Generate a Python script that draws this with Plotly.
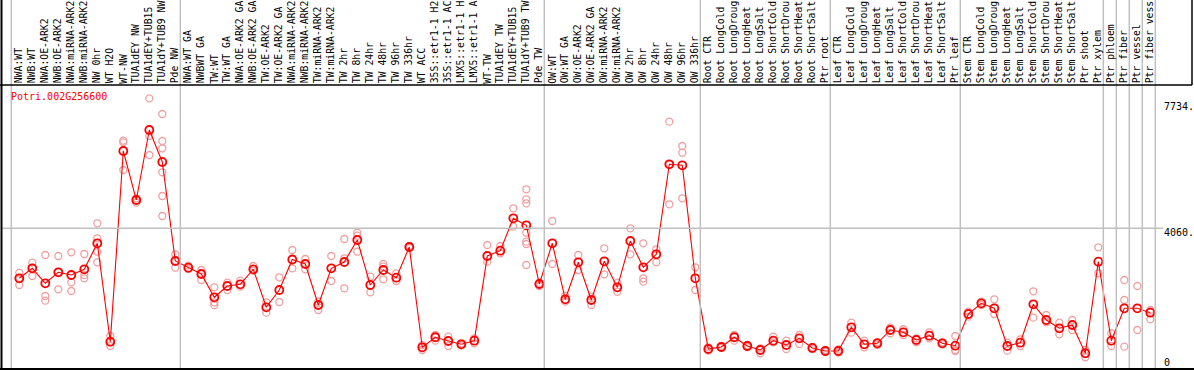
import plotly.graph_objects as go

gene = "Potri.002G256600"

# category labels as visible in the reference (long names are cut at the top edge there)
labels = [
    "NWA:WT", "NWB:WT", "NWA:OE-ARK2", "NWB:OE-ARK2", "NWA:miRNA-ARK2", "NWB:miRNA-ARK2",
    "NW 0hr", "WT H2O", "WT-NW", "TUA1dEY NW", "TUA1dEY+TUB15", "TUA1dY+TUB9 NW", "Pde NW",
    "NWA:WT GA", "NWBWT GA", "TW:WT", "TW:WT GA", "NWA:OE-ARK2 GA", "NWB:OE-ARK2 GA",
    "TW:OE-ARK2", "TW:OE-ARK2 GA", "NWA:miRNA-ARK2", "NWB:miRNA-ARK2", "TW:miRNA-ARK2",
    "TW:miRNA-ARK2", "TW 2hr", "TW 8hr", "TW 24hr", "TW 48hr", "TW 96hr", "TW 336hr",
    "WT ACC", "35S::etr1-1 H2", "35S::etr1-1 AC", "LMX5::etr1-1 H", "LMX5::etr1-1 A",
    "WT-TW", "TUA1dEY TW", "TUA1dEY+TUB15", "TUA1dY+TUB9 TW", "Pde TW",
    "OW:WT", "OW:WT GA", "OW:OE-ARK2", "OW:OE-ARK2 GA", "OW:miRNA-ARK2", "OW:miRNA-ARK2",
    "OW 2hr", "OW 8hr", "OW 24hr", "OW 48hr", "OW 96hr", "OW 336hr",
    "Root CTR", "Root LongCold", "Root LongDroug", "Root LongHeat", "Root LongSalt",
    "Root ShortCold", "Root ShortDrou", "Root ShortHeat", "Root ShortSalt", "Ptr root",
    "Leaf CTR", "Leaf LongCold", "Leaf LongDroug", "Leaf LongHeat", "Leaf LongSalt",
    "Leaf ShortCold", "Leaf ShortDrou", "Leaf ShortHeat", "Leaf ShortSalt", "Ptr leaf",
    "Stem CTR", "Stem LongCold", "Stem LongDroug", "Stem LongHeat", "Stem LongSalt",
    "Stem ShortCold", "Stem ShortDrou", "Stem ShortHeat", "Stem ShortSalt",
    "Ptr shoot", "Ptr xylem", "Ptr phloem", "Ptr fiber", "Ptr vessel", "Ptr fiber vess",
]

mean_values = [
    2597, 2890, 2451, 2773, 2694, 2861, 3621, 743, 6321, 4888, 6935, 5999, 3103,
    2907, 2723, 2042, 2372, 2422, 2861, 1749, 2255, 3147, 3016, 1816, 2890, 3074,
    3718, 2401, 2840, 2615, 3513, 579, 872, 763, 667, 772, 3250, 3405, 4352, 4148, 2431,
    3621, 1983, 3065, 1963, 3095, 2334, 3688, 2919, 3299, 5932, 5903, 2597,
    529, 588, 872, 617, 500, 772, 646, 842, 559, 471,
    471, 1164, 667, 696, 1085, 1018, 793, 918, 696, 626,
    1553, 1866, 1720, 617, 714, 1837, 1378, 1135, 1231, 404,
    3083, 772, 1720, 1720, 1591,
]

replicates = [
    [2761, 2606, 2401], [3054, 2899, 2665], [3279, 2080, 1942], [3250, 2782, 2276],
    [3358, 2480, 2226], [3308, 2694, 2597], [4206, 3767, 3375, 3065], [910, 734, 617],
    [6622, 6575, 5765], [4937, 4888, 4809], [7862, 6760, 6204],
    [7403, 6613, 6400, 5698, 5005, 4420], [3299, 3103, 2907],
    [2966, 2869], [2840, 2723, 2548], [2334, 1895, 1816], [2469, 2255], [2527, 2352],
    [2957, 2820], [1895, 1591], [2627, 1904], [3425, 2890], [3162, 2861], [1913, 1670],
    [3250, 2518], [3747, 3182, 2305], [3931, 3843, 3375], [2644, 2188], [3016, 2937, 2568],
    [2744, 2518], [3542, 3484], [646, 500], [939, 772], [889, 617], [696, 638], [842, 696],
    [3571, 3083], [3542, 3329], [4645, 4107],
    [5201, 4908, 4791, 3931, 3668, 3601, 2986], [2469, 2372],
    [4273, 3016], [2088, 1913], [3279, 2840], [2059, 1816], [3475, 2714], [2469, 2205],
    [4060, 3299], [3621, 2597, 2498], [3446, 3065], [7178, 5932, 4762], [6467, 6271, 4937],
    [2919, 2255],
    [579, 480], [617, 559], [939, 772], [646, 588], [550, 404], [889, 725], [772, 529],
    [939, 676], [588, 529], [500, 442],
    [515, 427], [1299, 1006], [772, 579], [734, 646], [1152, 989], [1106, 939], [842, 725],
    [1018, 842], [725, 667], [910, 500, 471],
    [1620, 1474], [1913, 1816], [1983, 1553], [714, 480], [813, 617], [2217, 1445],
    [1524, 1310], [1299, 959], [1378, 1085], [500, 287],
    [3504, 2744], [989, 617], [2548, 1963, 597], [2372, 1085], [1670, 1398, 1620],
]

# index of last category in each group (separators drawn after these)
group_ends = [-1, 12, 40, 52, 62, 72, 83, 84, 85, 86, 87]

y_tick_values = [0, 4060, 7734]
y_tick_labels = ["0", "4060.", "7734."]

W, H = 1194, 370
ML, MR, MT, MB = 2, 38, 86, 1
PW = W - ML - MR
PH = H - MT - MB
XMIN, XMAX = -1.331, 87.438
YMIN, YMAX = -56, 8222

def px_to_paper_x(px):
    return (px - ML) / PW

def py_to_paper_y(py):
    return (H - MB - py) / PH

def xval_to_paper(v):
    return (v - XMIN) / (XMAX - XMIN)

def yval_to_paper(v):
    return (v - YMIN) / (YMAX - YMIN)

FONT = "DejaVu Sans Mono"
RED = "#ff0000"
PINK = "#f0a0a0"

rep_x, rep_y = [], []
for i, reps in enumerate(replicates):
    for r in reps:
        rep_x.append(i)
        rep_y.append(r)

fig = go.Figure()
fig.add_trace(go.Scatter(
    x=rep_x, y=rep_y, mode="markers",
    marker=dict(symbol="circle-open", size=7, color=PINK, line=dict(width=1.3, color=PINK)),
    hoverinfo="skip", showlegend=False,
))
fig.add_trace(go.Scatter(
    x=list(range(len(mean_values))), y=mean_values, mode="lines+markers",
    line=dict(color=RED, width=1.1),
    marker=dict(symbol="circle-open", size=8, color=RED, line=dict(width=1.8, color=RED)),
    text=labels, showlegend=False,
))

shapes = []
top_paper = py_to_paper_y(0)
for g in group_ends:
    xp = xval_to_paper(g + 0.385)
    shapes.append(dict(type="line", xref="paper", yref="paper", x0=xp, x1=xp,
                       y0=0, y1=top_paper, line=dict(color="#c0c0c0", width=1.5)))
# horizontal grid at 4060
yp = yval_to_paper(4060)
shapes.append(dict(type="line", xref="paper", yref="paper", x0=0, x1=px_to_paper_x(1163),
                   y0=yp, y1=yp, line=dict(color="#c0c0c0", width=1.5)))
# borders
shapes.append(dict(type="line", xref="paper", yref="paper", x0=px_to_paper_x(1.5), x1=px_to_paper_x(1.5),
                   y0=py_to_paper_y(370), y1=top_paper, line=dict(color="black", width=2)))
shapes.append(dict(type="line", xref="paper", yref="paper", x0=px_to_paper_x(0), x1=px_to_paper_x(1194),
                   y0=py_to_paper_y(369), y1=py_to_paper_y(369), line=dict(color="black", width=2)))
shapes.append(dict(type="line", xref="paper", yref="paper", x0=px_to_paper_x(0), x1=px_to_paper_x(1192),
                   y0=py_to_paper_y(85), y1=py_to_paper_y(85), line=dict(color="black", width=1.5)))
shapes.append(dict(type="line", xref="paper", yref="paper", x0=px_to_paper_x(1192), x1=px_to_paper_x(1192),
                   y0=py_to_paper_y(85), y1=top_paper, line=dict(color="black", width=1.5)))

annotations = []
label_y = py_to_paper_y(84.5)
for i, lab in enumerate(labels):
    annotations.append(dict(x=i, xref="x", y=label_y, yref="paper", text=lab, textangle=-90,
                            xanchor="center", yanchor="bottom", showarrow=False, borderpad=0,
                            font=dict(family=FONT, size=9.8, color="black")))
for v, t in zip(y_tick_values, y_tick_labels):
    shift = 5 if v == 0 else -4
    annotations.append(dict(x=px_to_paper_x(1163), xref="paper", y=yval_to_paper(v), yref="paper",
                            text=t, xanchor="left", yanchor="middle", yshift=shift, showarrow=False,
                            borderpad=0, font=dict(family=FONT, size=10, color="black")))
annotations.append(dict(x=px_to_paper_x(9), xref="paper", y=py_to_paper_y(96.7), yref="paper",
                        text=gene, xanchor="left", yanchor="middle", showarrow=False,
                        font=dict(family=FONT, size=10, color=RED)))

fig.update_layout(
    width=W, height=H,
    margin=dict(l=ML, r=MR, t=MT, b=MB, pad=0),
    paper_bgcolor="white", plot_bgcolor="white",
    xaxis=dict(range=[XMIN, XMAX], visible=False, showgrid=False, zeroline=False),
    yaxis=dict(range=[YMIN, YMAX], visible=False, showgrid=False, zeroline=False),
    shapes=shapes, annotations=annotations,
    showlegend=False,
)

fig.write_html(
    "out.html",
    config={"displayModeBar": False},
    post_script="document.body.style.margin='0';document.body.style.padding='0';",
)
